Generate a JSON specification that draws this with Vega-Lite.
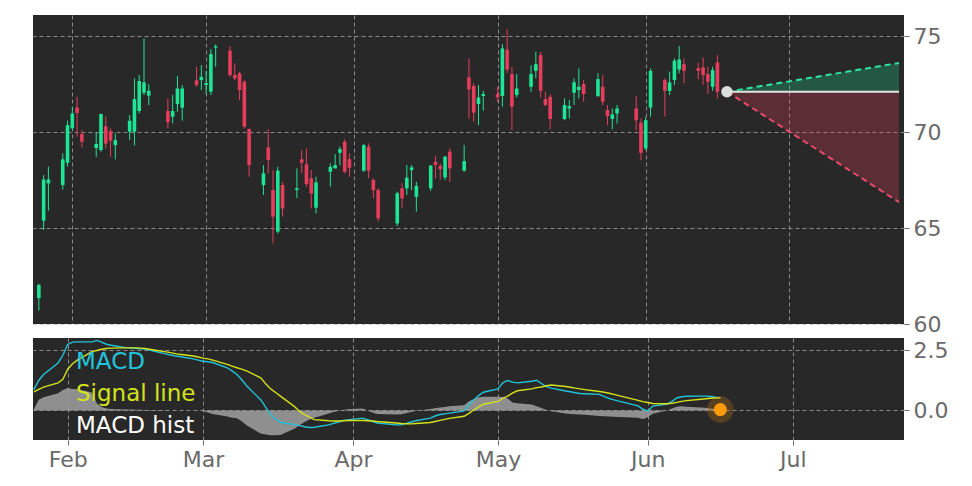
{
  "$schema": "https://vega.github.io/schema/vega-lite/v6.json",
  "padding": {"left": 31, "top": 15, "right": 5, "bottom": 5},
  "spacing": 2,
  "datasets": {
    "candles": [
      {"date": "2023-01-25", "open": 61.35, "high": 62.1, "low": 60.7, "close": 62.03},
      {"date": "2023-01-26", "open": 65.38, "high": 67.76, "low": 64.9, "close": 67.53},
      {"date": "2023-01-27", "open": 67.33, "high": 68.2, "low": 65.9, "close": 67.53},
      {"date": "2023-01-30", "open": 67.24, "high": 68.89, "low": 67.0, "close": 68.58},
      {"date": "2023-01-31", "open": 68.4, "high": 70.6, "low": 68.2, "close": 70.36},
      {"date": "2023-02-01", "open": 70.2, "high": 71.3, "low": 70.1, "close": 70.97},
      {"date": "2023-02-02", "open": 71.28, "high": 71.84, "low": 69.76, "close": 71.0},
      {"date": "2023-02-03", "open": 69.9, "high": 70.1, "low": 69.2, "close": 69.5},
      {"date": "2023-02-06", "open": 69.17, "high": 70.0, "low": 68.7, "close": 69.38},
      {"date": "2023-02-07", "open": 69.06, "high": 70.97, "low": 68.98, "close": 70.94},
      {"date": "2023-02-08", "open": 70.3, "high": 70.8, "low": 69.15, "close": 69.4},
      {"date": "2023-02-09", "open": 70.05, "high": 70.19, "low": 68.72, "close": 69.55},
      {"date": "2023-02-10", "open": 69.32, "high": 69.93, "low": 68.58, "close": 69.58},
      {"date": "2023-02-13", "open": 70.02, "high": 70.89, "low": 69.58, "close": 70.59},
      {"date": "2023-02-14", "open": 70.02, "high": 72.8, "low": 69.3, "close": 71.72},
      {"date": "2023-02-15", "open": 71.1, "high": 72.97, "low": 70.97, "close": 72.66},
      {"date": "2023-02-16", "open": 72.05, "high": 74.88, "low": 71.93, "close": 72.59},
      {"date": "2023-02-17", "open": 71.9, "high": 72.5, "low": 71.4, "close": 72.15},
      {"date": "2023-02-21", "open": 71.1, "high": 71.75, "low": 70.19, "close": 70.52},
      {"date": "2023-02-22", "open": 70.8, "high": 71.93, "low": 70.45, "close": 71.1},
      {"date": "2023-02-23", "open": 71.46, "high": 72.92, "low": 71.06, "close": 72.27},
      {"date": "2023-02-24", "open": 71.27, "high": 72.45, "low": 70.59, "close": 72.27},
      {"date": "2023-02-27", "open": 72.7, "high": 73.4, "low": 72.36, "close": 72.45},
      {"date": "2023-02-28", "open": 72.71, "high": 73.49, "low": 72.19, "close": 72.88},
      {"date": "2023-03-01", "open": 72.45, "high": 73.2, "low": 72.0, "close": 72.55},
      {"date": "2023-03-02", "open": 72.1, "high": 74.32, "low": 71.93, "close": 74.06},
      {"date": "2023-03-03", "open": 74.4, "high": 74.57, "low": 73.4, "close": 74.47},
      {"date": "2023-03-06", "open": 74.24, "high": 74.48, "low": 72.88, "close": 72.97},
      {"date": "2023-03-07", "open": 72.97, "high": 73.58, "low": 72.71, "close": 72.8},
      {"date": "2023-03-08", "open": 73.06, "high": 73.14, "low": 71.67, "close": 72.19},
      {"date": "2023-03-09", "open": 72.62, "high": 72.71, "low": 70.19, "close": 70.28},
      {"date": "2023-03-10", "open": 70.16, "high": 70.19, "low": 67.67, "close": 68.28},
      {"date": "2023-03-13", "open": 67.24, "high": 68.28, "low": 66.72, "close": 67.85},
      {"date": "2023-03-14", "open": 69.2, "high": 70.14, "low": 67.85, "close": 68.54},
      {"date": "2023-03-15", "open": 66.98, "high": 68.02, "low": 64.2, "close": 65.59},
      {"date": "2023-03-16", "open": 64.81, "high": 68.19, "low": 64.72, "close": 67.99},
      {"date": "2023-03-17", "open": 67.24, "high": 67.41, "low": 65.59, "close": 66.02},
      {"date": "2023-03-20", "open": 66.98, "high": 68.11, "low": 66.55, "close": 67.07},
      {"date": "2023-03-21", "open": 68.58, "high": 69.06, "low": 67.85, "close": 68.4},
      {"date": "2023-03-22", "open": 68.32, "high": 69.15, "low": 67.15, "close": 67.29},
      {"date": "2023-03-23", "open": 67.59, "high": 68.02, "low": 66.02, "close": 66.8},
      {"date": "2023-03-24", "open": 66.06, "high": 67.67, "low": 65.76, "close": 67.38},
      {"date": "2023-03-27", "open": 67.93, "high": 68.37, "low": 67.15, "close": 68.19},
      {"date": "2023-03-28", "open": 68.11, "high": 68.85, "low": 68.1, "close": 68.28},
      {"date": "2023-03-29", "open": 68.92, "high": 69.24, "low": 68.28, "close": 69.11},
      {"date": "2023-03-30", "open": 69.5, "high": 69.62, "low": 67.85, "close": 67.93},
      {"date": "2023-03-31", "open": 68.59, "high": 68.89, "low": 67.67, "close": 68.14},
      {"date": "2023-04-03", "open": 67.99, "high": 69.38, "low": 67.93, "close": 69.32},
      {"date": "2023-04-04", "open": 69.24, "high": 69.41, "low": 67.59, "close": 67.99},
      {"date": "2023-04-05", "open": 67.5, "high": 67.59, "low": 66.55, "close": 66.98},
      {"date": "2023-04-06", "open": 66.98, "high": 67.07, "low": 65.33, "close": 65.5},
      {"date": "2023-04-10", "open": 65.24, "high": 66.9, "low": 65.1, "close": 66.81},
      {"date": "2023-04-11", "open": 67.07, "high": 67.33, "low": 66.03, "close": 66.55},
      {"date": "2023-04-12", "open": 67.07, "high": 68.28, "low": 66.72, "close": 67.62},
      {"date": "2023-04-13", "open": 68.02, "high": 68.28, "low": 66.98, "close": 68.16},
      {"date": "2023-04-14", "open": 66.63, "high": 67.41, "low": 65.85, "close": 67.2},
      {"date": "2023-04-17", "open": 67.07, "high": 68.28, "low": 66.94, "close": 68.25},
      {"date": "2023-04-18", "open": 68.45, "high": 68.75, "low": 67.59, "close": 68.28},
      {"date": "2023-04-19", "open": 68.23, "high": 68.37, "low": 67.53, "close": 68.07},
      {"date": "2023-04-20", "open": 67.64, "high": 68.75, "low": 67.5, "close": 68.72},
      {"date": "2023-04-21", "open": 68.98, "high": 69.15, "low": 67.41, "close": 68.11},
      {"date": "2023-04-24", "open": 67.99, "high": 69.32, "low": 67.93, "close": 68.49},
      {"date": "2023-04-25", "open": 72.85, "high": 73.84, "low": 70.71, "close": 72.22},
      {"date": "2023-04-26", "open": 72.4, "high": 72.54, "low": 70.54, "close": 71.01},
      {"date": "2023-04-27", "open": 71.46, "high": 72.45, "low": 70.36, "close": 71.8},
      {"date": "2023-04-28", "open": 71.88, "high": 72.15, "low": 71.11, "close": 71.98},
      {"date": "2023-05-01", "open": 71.98, "high": 72.36, "low": 71.58, "close": 71.81},
      {"date": "2023-05-02", "open": 71.88, "high": 74.58, "low": 71.32, "close": 74.36},
      {"date": "2023-05-03", "open": 74.3, "high": 75.35, "low": 73.06, "close": 73.26},
      {"date": "2023-05-04", "open": 73.02, "high": 73.4, "low": 70.1, "close": 71.32},
      {"date": "2023-05-05", "open": 71.93, "high": 73.02, "low": 71.8, "close": 72.27},
      {"date": "2023-05-08", "open": 72.36, "high": 73.49, "low": 72.1, "close": 73.02},
      {"date": "2023-05-09", "open": 73.19, "high": 74.18, "low": 72.8, "close": 73.54},
      {"date": "2023-05-10", "open": 74.01, "high": 74.18, "low": 71.8, "close": 72.15},
      {"date": "2023-05-11", "open": 71.72, "high": 72.1, "low": 71.35, "close": 71.41},
      {"date": "2023-05-12", "open": 71.84, "high": 71.98, "low": 70.14, "close": 70.68},
      {"date": "2023-05-15", "open": 70.68, "high": 71.75, "low": 70.62, "close": 71.41},
      {"date": "2023-05-16", "open": 71.23, "high": 71.67, "low": 70.71, "close": 71.35},
      {"date": "2023-05-17", "open": 72.05, "high": 72.8, "low": 71.41, "close": 72.59},
      {"date": "2023-05-18", "open": 72.19, "high": 73.32, "low": 71.75, "close": 72.36},
      {"date": "2023-05-19", "open": 72.5, "high": 72.71, "low": 71.58, "close": 71.98},
      {"date": "2023-05-22", "open": 71.87, "high": 73.06, "low": 71.84, "close": 72.76},
      {"date": "2023-05-23", "open": 72.36, "high": 72.97, "low": 71.41, "close": 71.58},
      {"date": "2023-05-24", "open": 71.15, "high": 71.41, "low": 70.36, "close": 70.83},
      {"date": "2023-05-25", "open": 70.68, "high": 71.23, "low": 70.14, "close": 70.92},
      {"date": "2023-05-26", "open": 70.97, "high": 71.41, "low": 70.45, "close": 71.23},
      {"date": "2023-05-30", "open": 71.23, "high": 71.88, "low": 70.1, "close": 70.62},
      {"date": "2023-05-31", "open": 70.49, "high": 70.71, "low": 68.54, "close": 68.92},
      {"date": "2023-06-01", "open": 69.15, "high": 70.8, "low": 69.06, "close": 70.62},
      {"date": "2023-06-02", "open": 71.28, "high": 73.32, "low": 70.8, "close": 73.19},
      {"date": "2023-06-05", "open": 72.71, "high": 72.8, "low": 70.8, "close": 72.15},
      {"date": "2023-06-06", "open": 72.14, "high": 73.15, "low": 71.93, "close": 72.59},
      {"date": "2023-06-07", "open": 72.71, "high": 73.84, "low": 72.45, "close": 73.72},
      {"date": "2023-06-08", "open": 73.26, "high": 74.48, "low": 73.06, "close": 73.78},
      {"date": "2023-06-09", "open": 73.54, "high": 73.84, "low": 72.54, "close": 73.19},
      {"date": "2023-06-12", "open": 73.32, "high": 73.61, "low": 72.74, "close": 73.19},
      {"date": "2023-06-13", "open": 73.37, "high": 73.89, "low": 72.45, "close": 72.97},
      {"date": "2023-06-14", "open": 73.02, "high": 73.4, "low": 71.98, "close": 72.62},
      {"date": "2023-06-15", "open": 72.36, "high": 73.4, "low": 72.15, "close": 73.23},
      {"date": "2023-06-16", "open": 73.63, "high": 74.01, "low": 71.75, "close": 72.1}
    ],
    "macd": [
      {"date": "2023-01-25", "macd": 0.87, "signal": 0.78, "hist": 0.05},
      {"date": "2023-01-26", "macd": 1.25, "signal": 0.88, "hist": 0.45},
      {"date": "2023-01-27", "macd": 1.5, "signal": 0.97, "hist": 0.55},
      {"date": "2023-01-30", "macd": 1.98, "signal": 1.15, "hist": 0.72},
      {"date": "2023-01-31", "macd": 2.3, "signal": 1.3, "hist": 0.85},
      {"date": "2023-02-01", "macd": 2.75, "signal": 1.72, "hist": 0.94},
      {"date": "2023-02-02", "macd": 2.85, "signal": 1.95, "hist": 0.9},
      {"date": "2023-02-03", "macd": 2.86, "signal": 2.1, "hist": 0.88},
      {"date": "2023-02-06", "macd": 2.86, "signal": 2.45, "hist": 0.75},
      {"date": "2023-02-07", "macd": 2.92, "signal": 2.5, "hist": 0.3},
      {"date": "2023-02-08", "macd": 2.85, "signal": 2.55, "hist": 0.15},
      {"date": "2023-02-09", "macd": 2.76, "signal": 2.58, "hist": 0.08},
      {"date": "2023-02-10", "macd": 2.72, "signal": 2.6, "hist": 0.06},
      {"date": "2023-02-13", "macd": 2.62, "signal": 2.61, "hist": 0.04},
      {"date": "2023-02-14", "macd": 2.6, "signal": 2.61, "hist": 0.04},
      {"date": "2023-02-15", "macd": 2.59, "signal": 2.61, "hist": 0.03},
      {"date": "2023-02-16", "macd": 2.57, "signal": 2.6, "hist": 0.03},
      {"date": "2023-02-17", "macd": 2.56, "signal": 2.58, "hist": 0.02},
      {"date": "2023-02-21", "macd": 2.37, "signal": 2.45, "hist": 0.01},
      {"date": "2023-02-22", "macd": 2.32, "signal": 2.42, "hist": 0.0},
      {"date": "2023-02-23", "macd": 2.28, "signal": 2.38, "hist": 0.0},
      {"date": "2023-02-24", "macd": 2.25, "signal": 2.34, "hist": 0.0},
      {"date": "2023-02-27", "macd": 2.15, "signal": 2.27, "hist": 0.0},
      {"date": "2023-02-28", "macd": 2.1, "signal": 2.23, "hist": 0.0},
      {"date": "2023-03-01", "macd": 2.05, "signal": 2.18, "hist": -0.02},
      {"date": "2023-03-02", "macd": 2.03, "signal": 2.15, "hist": -0.08},
      {"date": "2023-03-03", "macd": 2.0, "signal": 2.1, "hist": -0.15},
      {"date": "2023-03-06", "macd": 1.78, "signal": 1.92, "hist": -0.25},
      {"date": "2023-03-07", "macd": 1.65, "signal": 1.85, "hist": -0.3},
      {"date": "2023-03-08", "macd": 1.5, "signal": 1.78, "hist": -0.32},
      {"date": "2023-03-09", "macd": 1.28, "signal": 1.72, "hist": -0.45},
      {"date": "2023-03-10", "macd": 1.03, "signal": 1.65, "hist": -0.62},
      {"date": "2023-03-13", "macd": 0.43, "signal": 1.35, "hist": -0.97},
      {"date": "2023-03-14", "macd": 0.12, "signal": 1.1, "hist": -1.0},
      {"date": "2023-03-15", "macd": -0.18, "signal": 0.9, "hist": -1.03},
      {"date": "2023-03-16", "macd": -0.35, "signal": 0.75, "hist": -1.03},
      {"date": "2023-03-17", "macd": -0.5, "signal": 0.6, "hist": -1.02},
      {"date": "2023-03-20", "macd": -0.59, "signal": 0.15, "hist": -0.75},
      {"date": "2023-03-21", "macd": -0.63, "signal": -0.05, "hist": -0.6},
      {"date": "2023-03-22", "macd": -0.68, "signal": -0.17, "hist": -0.48},
      {"date": "2023-03-23", "macd": -0.71, "signal": -0.28, "hist": -0.38},
      {"date": "2023-03-24", "macd": -0.7, "signal": -0.38, "hist": -0.3},
      {"date": "2023-03-27", "macd": -0.6, "signal": -0.43, "hist": -0.13},
      {"date": "2023-03-28", "macd": -0.54, "signal": -0.44, "hist": -0.06},
      {"date": "2023-03-29", "macd": -0.48, "signal": -0.44, "hist": -0.02},
      {"date": "2023-03-30", "macd": -0.42, "signal": -0.43, "hist": 0.02},
      {"date": "2023-03-31", "macd": -0.39, "signal": -0.42, "hist": 0.05},
      {"date": "2023-04-03", "macd": -0.32, "signal": -0.42, "hist": 0.08},
      {"date": "2023-04-04", "macd": -0.38, "signal": -0.43, "hist": 0.0},
      {"date": "2023-04-05", "macd": -0.45, "signal": -0.44, "hist": -0.08},
      {"date": "2023-04-06", "macd": -0.52, "signal": -0.46, "hist": -0.15},
      {"date": "2023-04-10", "macd": -0.6, "signal": -0.52, "hist": -0.17},
      {"date": "2023-04-11", "macd": -0.6, "signal": -0.54, "hist": -0.16},
      {"date": "2023-04-12", "macd": -0.54, "signal": -0.55, "hist": -0.12},
      {"date": "2023-04-13", "macd": -0.48, "signal": -0.56, "hist": -0.06},
      {"date": "2023-04-14", "macd": -0.43, "signal": -0.54, "hist": -0.02},
      {"date": "2023-04-17", "macd": -0.32, "signal": -0.5, "hist": 0.06},
      {"date": "2023-04-18", "macd": -0.23, "signal": -0.46, "hist": 0.09},
      {"date": "2023-04-19", "macd": -0.17, "signal": -0.41, "hist": 0.12},
      {"date": "2023-04-20", "macd": -0.14, "signal": -0.37, "hist": 0.15},
      {"date": "2023-04-21", "macd": -0.11, "signal": -0.33, "hist": 0.18},
      {"date": "2023-04-24", "macd": -0.02, "signal": -0.24, "hist": 0.22},
      {"date": "2023-04-25", "macd": 0.25, "signal": -0.12, "hist": 0.38},
      {"date": "2023-04-26", "macd": 0.44, "signal": 0.02, "hist": 0.47},
      {"date": "2023-04-27", "macd": 0.62, "signal": 0.15, "hist": 0.55},
      {"date": "2023-04-28", "macd": 0.76, "signal": 0.26, "hist": 0.57},
      {"date": "2023-05-01", "macd": 0.9, "signal": 0.38, "hist": 0.57},
      {"date": "2023-05-02", "macd": 1.15, "signal": 0.5, "hist": 0.56},
      {"date": "2023-05-03", "macd": 1.25, "signal": 0.6, "hist": 0.5},
      {"date": "2023-05-04", "macd": 1.18, "signal": 0.72, "hist": 0.33},
      {"date": "2023-05-05", "macd": 1.15, "signal": 0.82, "hist": 0.3},
      {"date": "2023-05-08", "macd": 1.22, "signal": 0.9, "hist": 0.25},
      {"date": "2023-05-09", "macd": 1.26, "signal": 0.95, "hist": 0.18},
      {"date": "2023-05-10", "macd": 1.12, "signal": 0.98, "hist": 0.1},
      {"date": "2023-05-11", "macd": 1.0, "signal": 1.03, "hist": 0.02},
      {"date": "2023-05-12", "macd": 0.93, "signal": 1.06, "hist": -0.03},
      {"date": "2023-05-15", "macd": 0.81, "signal": 1.0, "hist": -0.13},
      {"date": "2023-05-16", "macd": 0.78, "signal": 0.97, "hist": -0.15},
      {"date": "2023-05-17", "macd": 0.74, "signal": 0.93, "hist": -0.16},
      {"date": "2023-05-18", "macd": 0.71, "signal": 0.9, "hist": -0.17},
      {"date": "2023-05-19", "macd": 0.7, "signal": 0.87, "hist": -0.18},
      {"date": "2023-05-22", "macd": 0.67, "signal": 0.79, "hist": -0.23},
      {"date": "2023-05-23", "macd": 0.58, "signal": 0.76, "hist": -0.24},
      {"date": "2023-05-24", "macd": 0.5, "signal": 0.72, "hist": -0.25},
      {"date": "2023-05-25", "macd": 0.44, "signal": 0.67, "hist": -0.26},
      {"date": "2023-05-26", "macd": 0.39, "signal": 0.62, "hist": -0.27},
      {"date": "2023-05-30", "macd": 0.19, "signal": 0.42, "hist": -0.3},
      {"date": "2023-05-31", "macd": 0.05, "signal": 0.37, "hist": -0.37},
      {"date": "2023-06-01", "macd": -0.02, "signal": 0.33, "hist": -0.28},
      {"date": "2023-06-02", "macd": 0.18, "signal": 0.29, "hist": -0.14},
      {"date": "2023-06-05", "macd": 0.27, "signal": 0.28, "hist": 0.0},
      {"date": "2023-06-06", "macd": 0.38, "signal": 0.3, "hist": 0.08},
      {"date": "2023-06-07", "macd": 0.52, "signal": 0.34, "hist": 0.16},
      {"date": "2023-06-08", "macd": 0.57, "signal": 0.38, "hist": 0.18},
      {"date": "2023-06-09", "macd": 0.59, "signal": 0.41, "hist": 0.16},
      {"date": "2023-06-12", "macd": 0.6, "signal": 0.47, "hist": 0.12},
      {"date": "2023-06-13", "macd": 0.6, "signal": 0.49, "hist": 0.11},
      {"date": "2023-06-14", "macd": 0.58, "signal": 0.51, "hist": 0.08},
      {"date": "2023-06-15", "macd": 0.55, "signal": 0.52, "hist": 0.06},
      {"date": "2023-06-16", "macd": 0.53, "signal": 0.53, "hist": 0.04}
    ],
    "proj": [
      {"date": "2023-06-18", "base": 72.1, "hi": 72.1, "lo": 72.1},
      {"date": "2023-07-24", "base": 72.1, "hi": 73.6, "lo": 66.35}
    ]
  },
  "vconcat": [
    {
      "width": 871,
      "height": 309,
      "encoding": {
        "x": {
          "field": "date", "type": "temporal", "title": null,
          "scale": {"type": "utc", "domain": [{"year": 2023, "month": 1, "date": 24, "hours": 19, "minutes": 40, "utc": true}, {"year": 2023, "month": 7, "date": 24, "utc": true}]},
          "axis": {
            "labels": false, "ticks": false, "domain": false,
            "values": [
              {"year": 2023, "month": 2, "date": 1, "utc": true},
              {"year": 2023, "month": 3, "date": 1, "utc": true},
              {"year": 2023, "month": 4, "date": 1, "utc": true},
              {"year": 2023, "month": 5, "date": 1, "utc": true},
              {"year": 2023, "month": 6, "date": 1, "utc": true},
              {"year": 2023, "month": 7, "date": 1, "utc": true}
            ]
          }
        }
      },
      "layer": [
        {
          "data": {"name": "proj"},
          "mark": {"type": "area", "color": "#1de596", "opacity": 0.26},
          "encoding": {
            "y": {"field": "base", "type": "quantitative", "title": null, "scale": {"domain": [60, 76.1], "nice": false, "zero": false}, "axis": {"orient": "right", "values": [60, 65, 70, 75]}},
            "y2": {"field": "hi"}
          }
        },
        {
          "data": {"name": "proj"},
          "mark": {"type": "area", "color": "#e53d5b", "opacity": 0.27},
          "encoding": {
            "y": {"field": "lo", "type": "quantitative", "title": null, "scale": {"domain": [60, 76.1], "nice": false, "zero": false}, "axis": {"orient": "right", "values": [60, 65, 70, 75]}},
            "y2": {"field": "base"}
          }
        },
        {
          "data": {"name": "proj"},
          "mark": {"type": "line", "color": "#e4e4e4", "strokeWidth": 2},
          "encoding": {
            "y": {"field": "base", "type": "quantitative", "title": null, "scale": {"domain": [60, 76.1], "nice": false, "zero": false}, "axis": {"orient": "right", "values": [60, 65, 70, 75]}}
          }
        },
        {
          "data": {"name": "proj"},
          "mark": {"type": "line", "color": "#2ee6a2", "strokeWidth": 2, "strokeDash": [6, 4]},
          "encoding": {
            "y": {"field": "hi", "type": "quantitative", "title": null, "scale": {"domain": [60, 76.1], "nice": false, "zero": false}, "axis": {"orient": "right", "values": [60, 65, 70, 75]}}
          }
        },
        {
          "data": {"name": "proj"},
          "mark": {"type": "line", "color": "#ea4a6c", "strokeWidth": 2, "strokeDash": [6, 4]},
          "encoding": {
            "y": {"field": "lo", "type": "quantitative", "title": null, "scale": {"domain": [60, 76.1], "nice": false, "zero": false}, "axis": {"orient": "right", "values": [60, 65, 70, 75]}}
          }
        },
        {
          "data": {"name": "candles"},
          "mark": {"type": "rule", "strokeWidth": 1, "clip": true},
          "encoding": {
            "y": {"field": "low", "type": "quantitative", "title": null, "scale": {"domain": [60, 76.1], "nice": false, "zero": false}, "axis": {"orient": "right", "values": [60, 65, 70, 75]}},
            "y2": {"field": "high"},
            "color": {"condition": {"test": "datum.close >= datum.open", "value": "#1de596"}, "value": "#e53d5b"}
          }
        },
        {
          "data": {"name": "candles"},
          "mark": {"type": "bar", "width": 3.6, "clip": true},
          "encoding": {
            "y": {"field": "open", "type": "quantitative", "title": null, "scale": {"domain": [60, 76.1], "nice": false, "zero": false}, "axis": {"orient": "right", "values": [60, 65, 70, 75]}},
            "y2": {"field": "close"},
            "color": {"condition": {"test": "datum.close >= datum.open", "value": "#1de596"}, "value": "#e53d5b"}
          }
        },
        {
          "data": {"name": "proj"},
          "transform": [{"filter": "utcmonth(datum.date) == 5"}],
          "mark": {"type": "point", "filled": true, "opacity": 1, "color": "#dedede", "size": 130},
          "encoding": {
            "y": {"field": "base", "type": "quantitative", "title": null, "scale": {"domain": [60, 76.1], "nice": false, "zero": false}, "axis": {"orient": "right", "values": [60, 65, 70, 75]}}
          }
        }
      ]
    },
    {
      "width": 871,
      "height": 102,
      "data": {"name": "macd"},
      "transform": [{"fold": ["macd", "signal", "hist"], "as": ["series", "v"]}],
      "encoding": {
        "x": {
          "field": "date", "type": "temporal", "title": null,
          "scale": {"type": "utc", "domain": [{"year": 2023, "month": 1, "date": 24, "hours": 19, "minutes": 40, "utc": true}, {"year": 2023, "month": 7, "date": 24, "utc": true}]},
          "axis": {
            "format": "%b",
            "values": [
              {"year": 2023, "month": 2, "date": 1, "utc": true},
              {"year": 2023, "month": 3, "date": 1, "utc": true},
              {"year": 2023, "month": 4, "date": 1, "utc": true},
              {"year": 2023, "month": 5, "date": 1, "utc": true},
              {"year": 2023, "month": 6, "date": 1, "utc": true},
              {"year": 2023, "month": 7, "date": 1, "utc": true}
            ]
          }
        },
        "y": {
          "field": "v", "type": "quantitative", "title": null,
          "scale": {"domain": [-1.23, 3.02], "nice": false, "zero": false},
          "axis": {"orient": "right", "values": [0, 2.5], "format": ".1f"}
        },
        "color": {
          "field": "series", "type": "nominal",
          "scale": {"domain": ["macd", "signal", "hist"], "range": ["#20c3d9", "#d4e21c", "#9a9a9a"]},
          "legend": {
            "orient": "none", "legendX": 20, "legendY": 335, "title": null,
            "padding": 0, "symbolSize": 0, "symbolOpacity": 0, "symbolStrokeWidth": 0,
            "labelOffset": 0, "labelFontSize": 23, "rowPadding": 8,
            "labelExpr": "datum.value == 'macd' ? 'MACD' : datum.value == 'signal' ? 'Signal line' : 'MACD hist'",
            "encode": {"labels": {"update": {"fill": {"signal": "datum.value == 'macd' ? '#22c4dc' : datum.value == 'signal' ? '#d4e21c' : '#ffffff'"}}}}
          }
        }
      },
      "layer": [
        {
          "transform": [{"filter": "datum.series == 'hist'"}],
          "mark": {"type": "area", "opacity": 0.9},
          "encoding": {"y2": {"datum": 0}}
        },
        {
          "transform": [{"filter": "datum.series != 'hist'"}],
          "mark": {"type": "line", "strokeWidth": 1.4}
        },
        {
          "transform": [{"filter": "datum.series == 'hist' && utcmonth(datum.date) == 5 && utcdate(datum.date) == 16"}],
          "mark": {"type": "point", "filled": true, "size": 700, "opacity": 0.3},
          "encoding": {"color": {"value": "#c77a10"}}
        },
        {
          "transform": [{"filter": "datum.series == 'hist' && utcmonth(datum.date) == 5 && utcdate(datum.date) == 16"}],
          "mark": {"type": "point", "filled": true, "size": 170, "opacity": 1},
          "encoding": {"color": {"value": "#ff9a0a"}}
        }
      ]
    }
  ],
  "config": {
    "font": "DejaVu Sans",
    "background": "#ffffff",
    "view": {"stroke": null, "fill": "#282828"},
    "axis": {
      "gridColor": "#b4b4b4", "gridDash": [4, 3], "gridOpacity": 0.7, "gridWidth": 1,
      "labelFont": "DejaVu Sans", "labelFontSize": 22, "labelColor": "#6a6a6a",
      "tickColor": "#6a6a6a", "tickSize": 5, "domain": false, "labelPadding": 4
    },
    "legend": {"labelFont": "DejaVu Sans"}
  }
}
